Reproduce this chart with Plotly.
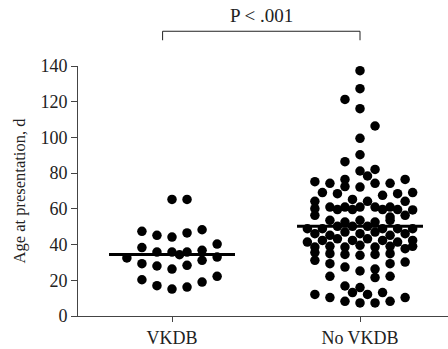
import plotly.graph_objects as go

groups = ["VKDB", "No VKDB"]
medians = [34.5, 50.2]

# VKDB: age values and swarm column index (column step = half dot width)
vkdb_age = [65.3, 65.3,
            47.4, 45.2, 44.2, 46.5, 48.3, 40.3,
            38.3, 35.8, 35.8, 34.3, 35.8, 36.8, 33.0, 32.5,
            29.3, 28.0, 26.3, 28.4, 31.2,
            20.3, 17.0, 15.1, 16.2, 19.0, 22.2]
vkdb_col = [0, 2,
            -4, -2, 0, 2, 4, 6,
            -4, -2, 0, 1, 2, 4, 6, -6,
            -4, -2, 0, 2, 4,
            -4, -2, 0, 2, 4, 6]

novkdb_age = [137.4, 127.3, 121.3, 116.1, 106.4, 99.5, 90.3, 86.4, 82.1, 81.2, 78.4,
              75.2, 74.3, 76.5, 74.3, 74.3, 76.5,
              72.5, 72.2, 69.1, 68.5, 65.3, 67.6, 68.5, 69.1,
              64.2, 64.2, 64.2,
              60.1, 61.0, 59.6, 61.0, 59.6, 61.0, 61.0, 59.6, 61.0, 59.6, 59.4,
              56.4, 55.4, 56.4,
              53.6, 52.6, 53.6, 52.6, 53.6,
              48.9, 48.9, 50.2, 50.2, 50.2, 48.9, 48.9, 48.9,
              46.1, 45.2, 47.0, 46.1, 47.0, 45.2, 46.1,
              41.4, 42.3, 43.2, 42.3, 43.2, 42.3, 41.4, 42.3,
              38.6, 39.0, 38.6, 39.6, 38.6, 39.0, 37.7, 39.0,
              35.5, 34.9, 34.5, 34.0, 34.5, 34.9,
              31.2, 30.2,
              29.3, 29.3,
              27.4, 25.2, 26.3,
              22.2, 21.5, 22.2,
              16.8, 15.9,
              13.1, 12.1, 13.1,
              12.1, 10.3, 10.3,
              8.2, 7.3, 7.3, 8.2]
novkdb_col = [0, 0, -2, 0, 2, 0, 0, -2, 2, 0, 1,
              -6, -4, -2, 2, 4, 6,
              -2, 0, -5, -3, -1, 3, 5, 7,
              -6, 1, 6,
              -6, -4, -3, -2, -1, 0, 2, 3, 4, 5, 7,
              -6, 4, 6,
              -4, -2, 0, 2, 4,
              -7, -5, -3, -1, 1, 3, 5, 7,
              -6, -4, -2, 0, 2, 4, 6,
              -7, -5, -3, -1, 1, 3, 5, 7,
              -6, -4, -2, 0, 2, 4, 6, 7,
              -6, -4, -2, 0, 2, 4,
              -6, 6,
              -4, 4,
              -2, 0, 2,
              -4, 2, 4,
              -2, 0,
              -1, 1, 3,
              -6, -4, 6,
              -2, 0, 2, 4]

STEP = 0.04
FONT = "Liberation Serif"

fig = go.Figure()
for gi, (ages, cols) in enumerate([(vkdb_age, vkdb_col), (novkdb_age, novkdb_col)]):
    fig.add_trace(go.Scatter(
        x=[gi + c * STEP for c in cols], y=ages, mode="markers",
        marker=dict(size=9.5, color="black", line=dict(width=0)),
        cliponaxis=False, showlegend=False, hoverinfo="y"))
    fig.add_trace(go.Scatter(
        x=[gi - 0.335, gi + 0.335], y=[medians[gi], medians[gi]], mode="lines",
        line=dict(color="black", width=3), showlegend=False, hoverinfo="skip"))

# significance bracket
fig.add_shape(type="path", xref="x", yref="paper",
              path="M -0.05,1.103 L -0.05,1.139 L 1.0,1.139 L 1.0,1.103",
              line=dict(color="#222", width=1))
fig.add_annotation(x=0.475, y=1.139, xref="x", yref="paper", text="P < .001",
                   showarrow=False, yanchor="bottom", yshift=3,
                   font=dict(family=FONT, size=19, color="#222"))

fig.update_layout(
    width=448, height=349,
    margin=dict(l=78, r=0, t=66, b=33),
    plot_bgcolor="white", paper_bgcolor="white",
    font=dict(family=FONT, size=19, color="#222"),
    xaxis=dict(range=[-0.5, 1.468], tickvals=[0, 1], ticktext=groups,
               automargin=False,
               showgrid=False, zeroline=False, showline=True, linecolor="#444",
               linewidth=1, ticks="outside", ticklen=5, tickcolor="#444",
               tickfont=dict(family=FONT, size=18)),
    yaxis=dict(range=[0, 140], tickvals=[0, 20, 40, 60, 80, 100, 120, 140],
               automargin=False,
               showgrid=False, zeroline=False, showline=True, linecolor="#444",
               linewidth=1, ticks="outside", ticklen=6, tickcolor="#444",
               tickfont=dict(family=FONT, size=18),
               title=dict(text="Age at presentation, d", standoff=10,
                          font=dict(family=FONT, size=16.5))),
)

fig.write_html("out.html")
